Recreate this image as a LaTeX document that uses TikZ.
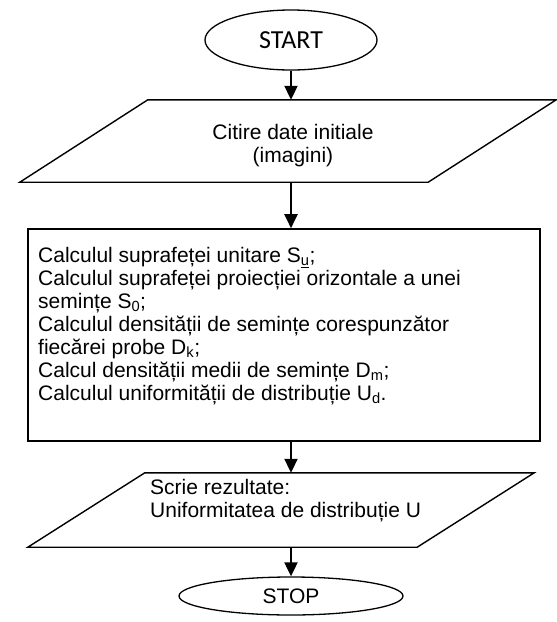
\documentclass[tikz,border=0pt]{standalone}
\usepackage{fontspec}
\setmainfont{Liberation Sans}
\newfontfamily\startfont{Carlito}
\usetikzlibrary{shapes.geometric,arrows.meta,calc}
\begin{document}
\begin{tikzpicture}[x=1pt,y=-1pt,
  every node/.style={font=\fontsize{21}{23}\selectfont},
  term/.style={ellipse,draw,line width=1.3pt,inner sep=0pt},
  arr/.style={line width=2pt,-{Triangle[length=14pt,width=13pt]}},
  border/.style={line width=1.4pt},
  hold/.style={inner sep=0pt}
]
\useasboundingbox (0,0) rectangle (557,622);
\fill[white] (0,0) rectangle (557,622);

\node[term,minimum width=172,minimum height=60] (start) at (291,40) {\startfont\fontsize{26}{28}\selectfont START};

\node[hold,minimum width=408,minimum height=82] (in) at (288,141) {};
\draw[border] ($(in.north west)+(64,0)$) -- ($(in.north east)+(64,0)$) -- ($(in.south east)+(-64,0)$) -- ($(in.south west)+(-64,0)$) -- cycle;
\node[align=center,hold] (intext) at (293,146) {Citire date initiale\\(imagini)};

\node[draw,line width=1.6pt,minimum width=512,minimum height=212,inner sep=0pt] (calc) at (284,335) {};
\node[anchor=north west,align=left,hold] (calctext) at (38,247) {Calculul suprafeței unitare S\textsubscript{\underline{u}};\\
Calculul suprafeței proiecției orizontale a unei\\
semințe S\textsubscript{0};\\
Calculul densității de semințe corespunzător\\
fiecărei probe D\textsubscript{k};\\
Calcul densității medii de semințe D\textsubscript{m};\\
Calculul uniformității de distribuție U\textsubscript{d}.};

\node[hold,minimum width=389,minimum height=74] (out) at (281,510) {};
\draw[border] ($(out.north west)+(58.5,0)$) -- ($(out.north east)+(58.5,0)$) -- ($(out.south east)+(-58.5,0)$) -- ($(out.south west)+(-58.5,0)$) -- cycle;
\node[anchor=west,align=left,hold] (outtext) at (150,501) {Scrie rezultate:\\Uniformitatea de distribuție U};

\node[term,minimum width=224,minimum height=38] (stop) at (291,596) {STOP};

\draw[arr] (start.south) -- (start.south |- in.north);
\draw[arr] (start.south |- in.south) -- (start.south |- calc.north);
\draw[arr] (start.south |- calc.south) -- (start.south |- out.north);
\draw[arr] (start.south |- out.south) -- (stop.north);
\end{tikzpicture}
\end{document}
